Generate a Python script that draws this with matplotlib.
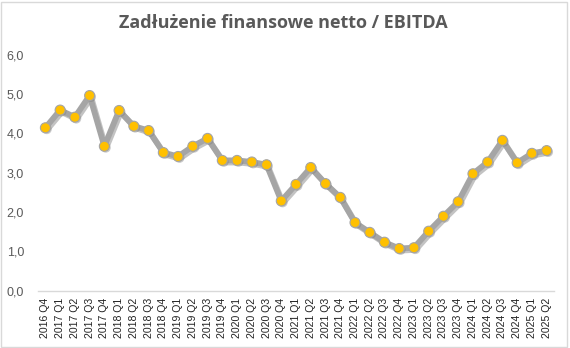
import matplotlib
matplotlib.use("Agg")
import matplotlib.pyplot as plt
import matplotlib.patheffects as pe
from matplotlib.patches import Rectangle
from matplotlib.ticker import FuncFormatter, MultipleLocator

quarters = [
    "2016 Q4",
    "2017 Q1", "2017 Q2", "2017 Q3", "2017 Q4",
    "2018 Q1", "2018 Q2", "2018 Q3", "2018 Q4",
    "2019 Q1", "2019 Q2", "2019 Q3", "2019 Q4",
    "2020 Q1", "2020 Q2", "2020 Q3", "2020 Q4",
    "2021 Q1", "2021 Q2", "2021 Q3", "2021 Q4",
    "2022 Q1", "2022 Q2", "2022 Q3", "2022 Q4",
    "2023 Q1", "2023 Q2", "2023 Q3", "2023 Q4",
    "2024 Q1", "2024 Q2", "2024 Q3", "2024 Q4",
    "2025 Q1", "2025 Q2",
]
debt_to_ebitda = [
    4.14,
    4.59, 4.41, 4.96, 3.67,
    4.58, 4.18, 4.07, 3.51,
    3.41, 3.67, 3.87, 3.31,
    3.31, 3.27, 3.20, 2.28,
    2.70, 3.13, 2.72, 2.37,
    1.73, 1.48, 1.23, 1.07,
    1.09, 1.51, 1.89, 2.26,
    2.97, 3.27, 3.82, 3.25,
    3.49, 3.56,
]

title = "Zadłużenie finansowe netto / EBITDA"

fig = plt.figure(figsize=(5.7, 3.48), dpi=100)
fig.patch.set_facecolor("white")
fig.patches.append(Rectangle((0.002, 0.004), 0.993, 0.99, transform=fig.transFigure,
                             fill=False, edgecolor="#D9D9D9", linewidth=1.0))

ax = fig.add_axes([0.0667, 0.165, 0.9053, 0.678])
x = list(range(len(quarters)))

ax.plot(x, debt_to_ebitda, color="#A5A5A5", linewidth=4.2, solid_joinstyle="round",
        solid_capstyle="round", zorder=2,
        path_effects=[pe.SimpleLineShadow(offset=(1.2, -1.5), shadow_color="#7a7a7a", alpha=0.45),
                      pe.Normal()])
ax.plot(x, debt_to_ebitda, linestyle="none", marker="o", markersize=7.2,
        markerfacecolor="#FFC000", markeredgecolor="#A5A5A5", markeredgewidth=0.8, zorder=3,
        path_effects=[pe.SimplePatchShadow(offset=(1, -1), shadow_rgbFace="#7a7a7a", alpha=0.4),
                      pe.Normal()])

ax.set_xlim(-0.5, len(quarters) - 0.5)
ax.set_ylim(0, 6)
ax.yaxis.set_major_locator(MultipleLocator(1))
ax.yaxis.set_major_formatter(FuncFormatter(lambda v, _: f"{v:.1f}".replace(".", ",")))

ax.set_xticks(x)
ax.set_xticklabels(quarters, rotation=90, fontsize=7.6, family="Liberation Sans", color="#222222")
for lbl in ax.get_yticklabels():
    lbl.set_fontsize(9)
    lbl.set_family("Liberation Sans")
    lbl.set_color("#595959")

ax.tick_params(axis="both", length=0)
ax.tick_params(axis="y", pad=10)
ax.tick_params(axis="x", pad=5)

for side in ("top", "right", "left"):
    ax.spines[side].set_visible(False)
ax.spines["bottom"].set_color("#D9D9D9")
ax.spines["bottom"].set_linewidth(1.0)

fig.text(0.497, 0.935, title, ha="center", va="center", fontsize=13, fontweight="bold",
         family="Open Sans", color="#595959")

fig.savefig("out.png", dpi=100, facecolor="white")
